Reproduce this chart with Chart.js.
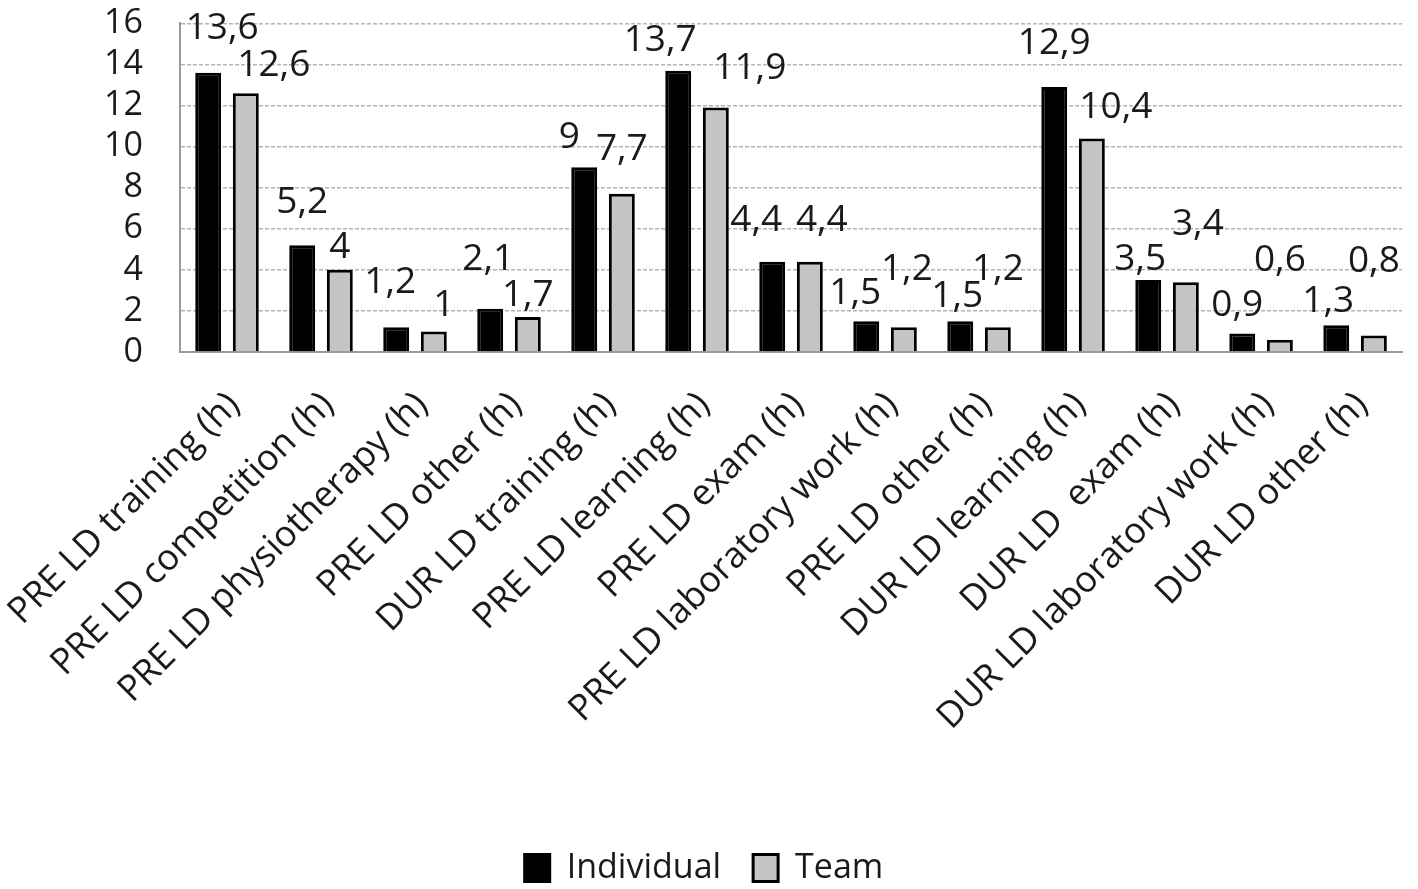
<!DOCTYPE html>
<html lang="en">
<head>
    <meta charset="UTF-8">
    <title>Hours PRE / DUR LD - Individual vs Team</title>
    <style>
        html, body {
            margin: 0;
            padding: 0;
            background: #ffffff;
        }
        #chart {
            display: block;
        }
    </style>
    <script src="https://cdn.jsdelivr.net/npm/chart.js"></script>
</head>
<body>
    <canvas id="chart" width="1418" height="889"></canvas>

    <script>
        // Data
        const categories = [
            'PRE LD training (h)',
            'PRE LD competition (h)',
            'PRE LD physiotherapy (h)',
            'PRE LD other (h)',
            'DUR LD training (h)',
            'PRE LD learning (h)',
            'PRE LD exam (h)',
            'PRE LD laboratory work (h)',
            'PRE LD other (h)',
            'DUR LD learning (h)',
            'DUR LD  exam (h)',
            'DUR LD laboratory work (h)',
            'DUR LD other (h)'
        ];
        const individualValues = [13.6, 5.2, 1.2, 2.1, 9, 13.7, 4.4, 1.5, 1.5, 12.9, 3.5, 0.9, 1.3];
        const teamValues = [12.6, 4, 1, 1.7, 7.7, 11.9, 4.4, 1.2, 1.2, 10.4, 3.4, 0.6, 0.8];
        const yTicks = [0, 2, 4, 6, 8, 10, 12, 14, 16];

        // label nudges (px): horizontal shift and height above the bar top
        const indLabelDx = [14, 0, -6, -2, -15, -18, -16, -11, -3, 0, -8, -5, -8];
        const indLabelRise = [47, 45, 47, 52, 32, 33, 44, 30, 27, 46, 23, 31, 26];
        const teamLabelDx = [28, 0, 10, 0, 0, 34, 12, 3, 0, 24, 12, 0, 0];
        const teamLabelRise = [30, 25, 28, 24, 47, 42, 44, 60, 60, 33, 60, 82, 77];

        const FONT = '"Open Sans", "DejaVu Sans", sans-serif';
        const TEXT = '#1a1a1a';

        // draws the value labels above the bars, with a decimal comma
        const valueLabels = {
            id: 'valueLabels',
            afterDatasetsDraw(chart) {
                const ctx = chart.ctx;
                const nudges = [[indLabelDx, indLabelRise], [teamLabelDx, teamLabelRise]];
                ctx.save();
                ctx.font = '37px ' + FONT;
                ctx.fillStyle = TEXT;
                ctx.textAlign = 'center';
                ctx.textBaseline = 'alphabetic';
                chart.data.datasets.forEach((ds, di) => {
                    const meta = chart.getDatasetMeta(di);
                    meta.data.forEach((bar, i) => {
                        const txt = String(ds.data[i]).replace('.', ',');
                        const x = bar.x + nudges[di][0][i];
                        const y = bar.y - nudges[di][1][i] + 13;
                        ctx.fillText(txt, x, y);
                    });
                });
                ctx.restore();
            }
        };

        function draw() {
            const ctx = document.getElementById('chart').getContext('2d');
            new Chart(ctx, {
                type: 'bar',
                data: {
                    labels: categories,
                    datasets: [{
                        label: 'Individual',
                        data: individualValues,
                        backgroundColor: '#000000',
                        borderColor: '#000000',
                        borderWidth: 3,
                        categoryPercentage: 0.8,
                        barPercentage: 0.69
                    }, {
                        label: 'Team',
                        data: teamValues,
                        backgroundColor: '#c4c4c4',
                        borderColor: '#000000',
                        borderWidth: 3,
                        categoryPercentage: 0.8,
                        barPercentage: 0.69
                    }]
                },
                options: {
                    responsive: false,
                    animation: false,
                    devicePixelRatio: 1,
                    layout: {
                        padding: { top: 20, right: 10, left: 0, bottom: -6 }
                    },
                    scales: {
                        x: {
                            grid: { display: false, drawTicks: false },
                            border: { display: true, color: '#9a9a9a', width: 2 },
                            ticks: {
                                autoSkip: false,
                                maxRotation: 45,
                                minRotation: 45,
                                padding: 32,
                                labelOffset: 7,
                                color: TEXT,
                                font: { family: FONT, size: 36 }
                            },
                            afterFit(axis) {
                                axis.height = 467;
                                // let the first rotated label run to the edge like the original
                                axis.paddingLeft = 0;
                            }
                        },
                        y: {
                            min: 0,
                            max: 16,
                            afterBuildTicks(axis) {
                                axis.ticks = yTicks.map(v => ({ value: v }));
                            },
                            grid: {
                                color: '#b4b4b4',
                                lineWidth: 1.5,
                                drawTicks: true,
                                tickLength: 34,
                                tickColor: 'rgba(0,0,0,0)'
                            },
                            border: { display: true, color: '#9a9a9a', width: 2, dash: [4, 2] },
                            ticks: {
                                autoSkip: false,
                                padding: 3,
                                color: TEXT,
                                font: { family: FONT, size: 34 }
                            },
                            afterFit(axis) { axis.width = 180; }
                        }
                    },
                    plugins: {
                        legend: {
                            position: 'bottom',
                            labels: {
                                color: TEXT,
                                font: { family: FONT, size: 34 },
                                boxWidth: 25,
                                boxHeight: 27,
                                padding: 32
                            }
                        },
                        tooltip: { enabled: false }
                    }
                },
                plugins: [valueLabels]
            });
        }

        document.fonts.load('34px "Open Sans"').then(draw, draw);
    </script>
</body>
</html>
